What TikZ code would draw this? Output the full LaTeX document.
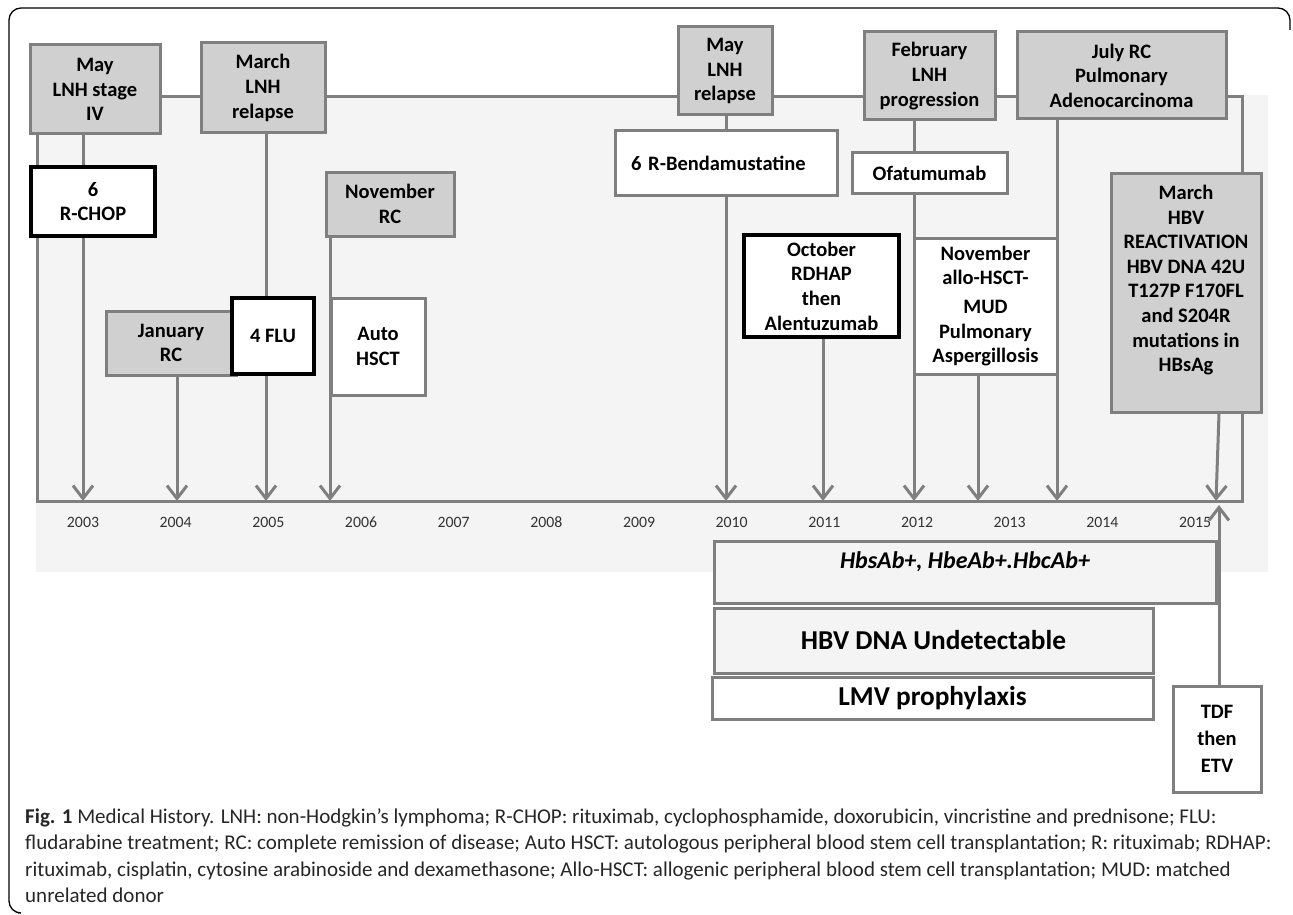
\documentclass[tikz,border=0pt]{standalone}
\usepackage{fontspec}
\setmainfont{Carlito}
\usetikzlibrary{arrows.meta, positioning, calc}
\definecolor{linegray}{HTML}{7F7F7F}
\definecolor{boxfill}{HTML}{D0D0D0}
\definecolor{bglight}{HTML}{F4F4F4}
\definecolor{yeargray}{HTML}{333333}

\begin{document}
\begin{tikzpicture}[x=1pt, y=-1pt,
  every node/.style={font=\bfseries\fontsize{20.5}{24.6}\selectfont, align=center, inner sep=0pt},
  box/.style={draw=linegray, line width=3pt, fill=white},
  gbox/.style={box, fill=boxfill},
  kbox/.style={box, draw=black, line width=3.5pt},
  lbox/.style={box, fill=bglight},
  big/.style={font=\bfseries\fontsize{27.3}{30}\selectfont},
  yr/.style={font=\fontsize{15.8}{18}\selectfont, text=yeargray},
  link/.style={draw=linegray, line width=3pt},
  arr/.style={link, -{Straight Barb[length=13pt, width=20pt, line width=3pt]}},
]
  \useasboundingbox (0,0) rectangle (1293,915);

  % outer frame, open on the right
  \draw[line width=1.3pt, rounded corners=12pt]
    (1290,30) -- (1290,8) -- (9,8) -- (9,913) -- (18,913);

  % shaded band and timeline frame
  \fill[bglight] (36,95) rectangle (1268,572);
  \draw[link] (37,97) rectangle (1242,501);

  % years
  \foreach \yr [count=\i from 0] in {2003,...,2015}
    \node[yr] (y\yr) at ({83+92.67*\i},522) {\yr};

  % arrow ends on the timeline
  \coordinate (t03)  at (83,501);
  \coordinate (t04)  at (177,501);
  \coordinate (t05)  at (266,501);
  \coordinate (t06)  at (330,501);
  \coordinate (t10)  at (726,501);
  \coordinate (t11)  at (823,501);
  \coordinate (t12)  at (914,501);
  \coordinate (t12b) at (978,501);
  \coordinate (t13)  at (1057,501);
  \coordinate (t15)  at (1216,501);
  \coordinate (t15u) at (1219,505);

  % events 2003--2006
  \node[gbox, minimum width=130pt, minimum height=89pt] (may03) at (95,89.5) {May\\LNH stage\\IV};
  \node[gbox, minimum width=124pt, minimum height=90pt] (mar05) at (263,88) {March\\LNH\\relapse};
  \node[kbox, minimum width=124pt, minimum height=69pt] (rchop) at (93,201.5) {6\\R-CHOP};
  \node[gbox, minimum width=130pt, minimum height=64pt] (janrc) at (171,343) {January\\RC};
  \node[kbox, minimum width=82pt, minimum height=76pt] (flu) at (273,336) {4 FLU};
  \node[gbox, minimum width=128pt, minimum height=64pt] (novrc) at (390,204) {November\\RC};
  \node[box, minimum width=94pt, minimum height=97pt] (auto) at (378,346.5) {Auto\\HSCT};

  % events 2010--2015
  \node[gbox, minimum width=94pt, minimum height=88pt] (may10) at (725,71) {May\\LNH\\relapse};
  \node[box, minimum width=222pt, minimum height=64pt, text width=190pt, align=left] (rbend) at (726,163) {6 R-Bendamustatine};
  \node[kbox, minimum width=155pt, minimum height=102pt] (octo) at (821.5,286) {October\\RDHAP\\then\\Alentuzumab};
  \node[gbox, minimum width=131pt, minimum height=88pt] (feb12) at (929.5,76) {February\\LNH\\progression};
  \node[box, minimum width=155pt, minimum height=40pt] (ofat) at (929.5,173) {Ofatumumab};
  \node[box, minimum width=143pt, minimum height=136pt] (novallo) at (985.5,306) {November\\allo-HSCT-\\[4pt]MUD\\Pulmonary\\Aspergillosis};
  \node[gbox, minimum width=209pt, minimum height=87pt] (jul13) at (1121.5,75.5) {July RC\\Pulmonary\\Adenocarcinoma};
  \node[gbox, minimum width=150pt, minimum height=239pt, text depth=28pt] (hbv15) at (1186,292.5)
    {March\\HBV\\REACTIVATION\\HBV DNA 42U\\T127P F170FL\\and S204R\\mutations in\\HBsAg};

  % serology and prophylaxis
  \node[lbox, minimum width=502pt, minimum height=62pt, text depth=23pt,
        font=\bfseries\itshape\fontsize{24}{28}\selectfont] (hbsab) at (965,572) {HbsAb+, HbeAb+.HbcAb+};
  \node[lbox, big, minimum width=439pt, minimum height=65pt] (hbvdna) at (933.5,640.5) {HBV DNA Undetectable};
  \node[box, big, minimum width=441pt, minimum height=42pt] (lmv) at (932.5,698) {LMV prophylaxis};
  \node[box, minimum width=88pt, minimum height=106pt, font=\bfseries\fontsize{20.5}{27}\selectfont] (tdf) at (1217,739) {TDF\\then\\ETV};

  % connectors
  \draw[link] (may03.south -| t03) -- (rchop.north -| t03);
  \draw[arr]  (rchop.south -| t03) -- (t03);
  \draw[arr]  (janrc.south -| t04) -- (t04);
  \draw[link] (mar05.south -| t05) -- (flu.north -| t05);
  \draw[arr]  (flu.south -| t05) -- (t05);
  \draw[arr]  (novrc.south -| t06) -- (t06);
  \draw[link] (may10.south -| t10) -- (rbend.north -| t10);
  \draw[arr]  (rbend.south -| t10) -- (t10);
  \draw[arr]  (octo.south -| t11) -- (t11);
  \draw[link] (feb12.south -| t12) -- (ofat.north -| t12);
  \draw[arr]  (ofat.south -| t12) -- (t12);
  \draw[arr]  (novallo.south -| t12b) -- (t12b);
  \draw[arr]  (jul13.south -| t13) -- (t13);
  \draw[arr]  (hbv15.south -| t15u) -- (t15);
  \draw[arr]  (tdf.north -| t15u) -- (t15u);

  % caption
  \node[font=\fontsize{21}{26.5}\selectfont, align=left, anchor=north west, text=black!85] (caption) at (25,808)
    {\textbf{Fig. 1} Medical History. LNH: non-Hodgkin’s lymphoma; R-CHOP: rituximab, cyclophosphamide, doxorubicin, vincristine and prednisone; FLU:\\
     fludarabine treatment; RC: complete remission of disease; Auto HSCT: autologous peripheral blood stem cell transplantation; R: rituximab; RDHAP:\\
     rituximab, cisplatin, cytosine arabinoside and dexamethasone; Allo-HSCT: allogenic peripheral blood stem cell transplantation; MUD: matched\\
     unrelated donor};
\end{tikzpicture}
\end{document}
